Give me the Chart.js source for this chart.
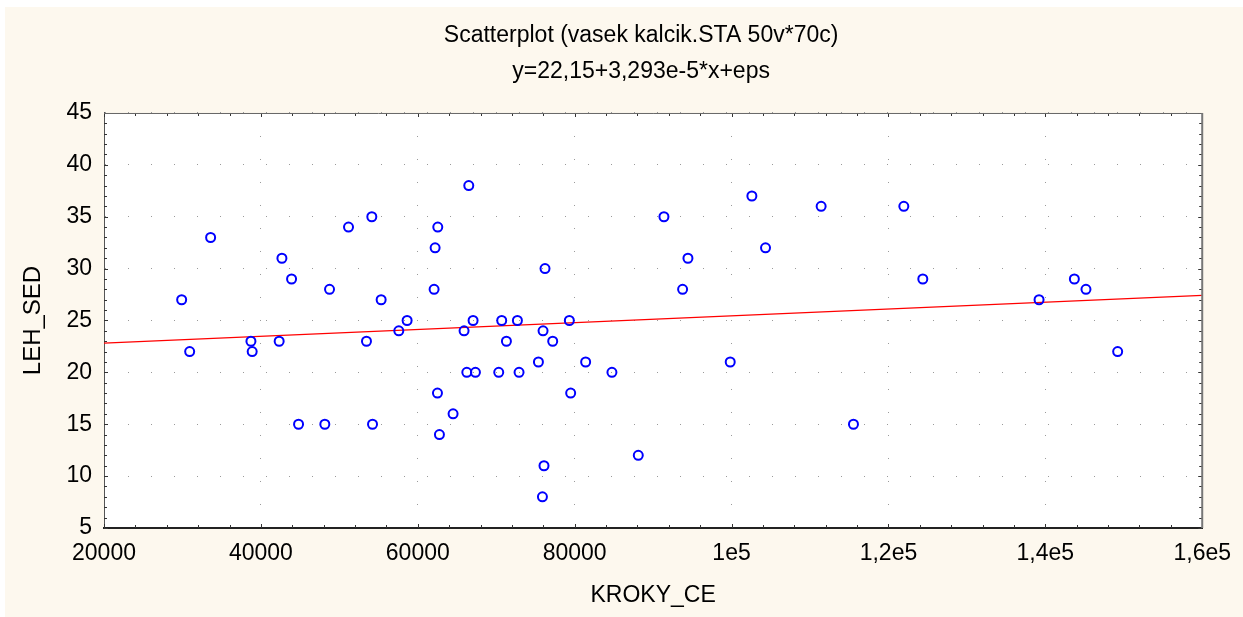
<!DOCTYPE html>
<html>
<head>
<meta charset="utf-8">
<script src="https://cdn.jsdelivr.net/npm/chart.js@4"></script>
<style>
html, body { margin: 0; padding: 0; background: #ffffff; }
</style>
</head>
<body>
<canvas id="grafo" width="1243" height="617"></canvas>
<script>
// KROKY_CE x LEH_SED
const krokyCe = [29900, 30920, 33590, 38730, 38890, 42330, 42680, 43910, 44800, 48150,
    48750, 51170, 53460, 54140, 54230, 55330, 57580, 58640, 62080, 62210,
    62510, 62550, 62760, 64500, 65900, 66250, 66500, 67050, 67350, 70320,
    70700, 71300, 72700, 72910, 75380, 75890, 75970, 76090, 76220, 77200,
    79320, 79490, 81400, 84750, 88110, 91380, 93760, 94440, 99830, 102590,
    104330, 111420, 115540, 121960, 124380, 139200, 143700, 145180, 149220];
const lehSed = [27, 22, 33, 23, 22, 23, 31, 29, 15, 15,
    28, 34, 23, 35, 15, 27, 24, 25, 28, 32,
    18, 34, 14, 16, 24, 20, 38, 25, 20, 20,
    25, 23, 25, 20, 21, 8, 24, 11, 30, 23,
    25, 18, 21, 20, 12, 35, 28, 31, 21, 37,
    32, 36, 15, 36, 29, 27, 29, 28, 22];

// reta ajustada
const fitX = [20000, 160000];
const fitY = [22.81, 27.42];

const xTickLabels = ['20000', '40000', '60000', '80000', '1e5', '1,2e5', '1,4e5', '1,6e5'];
const titulo = ['Scatterplot (vasek kalcik.STA 50v*70c)', 'y=22,15+3,293e-5*x+eps'];

Chart.defaults.font.family = "'Liberation Sans', Arial, sans-serif";
Chart.defaults.color = '#000000';

const fundo = {
    id: 'fundo',
    beforeDraw(chart) {
        const {ctx, chartArea: a} = chart;
        ctx.save();
        ctx.fillStyle = '#fdf8ee';
        ctx.fillRect(5, 7, chart.width - 5, chart.height - 7);
        ctx.fillStyle = '#ffffff';
        ctx.fillRect(a.left, a.top, a.right - a.left, a.bottom - a.top);
        ctx.restore();
    }
};

const posTitulo = {
    id: 'posTitulo',
    afterLayout(chart) {
        const t = chart.titleBlock;
        if (t) { t.left -= 12; t.right -= 12; }
    }
};

const marcas = {
    id: 'marcas',
    afterDraw(chart) {
        const {ctx, chartArea: a, scales: {x, y}} = chart;
        ctx.save();
        ctx.strokeStyle = '#333333';
        ctx.lineWidth = 1;
        ctx.beginPath();
        for (let v = x.min; v <= x.max; v += 4000) {
            const px = Math.round(x.getPixelForValue(v)) + 0.5;
            const len = (v - x.min) % 20000 === 0 ? 4 : 3;
            ctx.moveTo(px, a.top); ctx.lineTo(px, a.top + len);
            ctx.moveTo(px, a.bottom); ctx.lineTo(px, a.bottom - len);
        }
        for (let v = y.min; v <= y.max; v += 1) {
            const py = Math.round(y.getPixelForValue(v)) + 0.5;
            const len = (v - y.min) % 5 === 0 ? 4 : 3;
            ctx.moveTo(a.left, py); ctx.lineTo(a.left + len, py);
            ctx.moveTo(a.right, py); ctx.lineTo(a.right - len, py);
        }
        ctx.stroke();
        ctx.strokeStyle = '#666666';
        ctx.beginPath();
        ctx.moveTo(a.left, a.top + 0.5); ctx.lineTo(a.right, a.top + 0.5);
        ctx.stroke();
        ctx.lineWidth = 2;
        ctx.strokeStyle = '#777777';
        ctx.beginPath();
        ctx.moveTo(a.right, a.top); ctx.lineTo(a.right, a.bottom);
        ctx.stroke();
        ctx.restore();
    }
};

const ctx = document.getElementById('grafo').getContext('2d');
const grafico = new Chart(ctx, {
    type: 'scatter',
    data: {
        datasets: [{
            label: 'LEH_SED',
            data: krokyCe.map((k, i) => ({x: k, y: lehSed[i]})),
            pointStyle: 'circle',
            pointRadius: 4.5,
            borderColor: '#0000ff',
            backgroundColor: 'rgba(0,0,0,0)',
            borderWidth: 2
        },
        {
            label: 'fit',
            data: fitX.map((k, i) => ({x: k, y: fitY[i]})),
            showLine: true,
            borderColor: '#ff0000',
            borderWidth: 1.3,
            pointRadius: 0
        }]
    },
    options: {
        responsive: false,
        animation: false,
        layout: { padding: { left: 8, right: 40, top: 0, bottom: 6 } },
        plugins: {
            legend: { display: false },
            tooltip: { enabled: false },
            title: {
                display: true,
                text: titulo,
                fullSize: false,
                color: '#000000',
                font: { size: 23, weight: 'normal', lineHeight: 1.565 },
                padding: { top: 18, bottom: 23 }
            }
        },
        scales: {
            x: {
                type: 'linear',
                min: 20000,
                max: 160000,
                ticks: {
                    stepSize: 20000,
                    autoSkip: false,
                    maxRotation: 0,
                    padding: 12,
                    font: { size: 23 },
                    callback: (v, i) => xTickLabels[i]
                },
                grid: { color: '#9a9a9a', drawTicks: false },
                border: { display: true, color: '#222222', width: 2, dash: [1, 22] },
                title: { display: true, text: 'KROKY_CE', font: { size: 23 }, padding: { top: 0, bottom: 2 } },
                afterFit(s) { s.height = 83; }
            },
            y: {
                min: 5,
                max: 45,
                ticks: { stepSize: 5, padding: 12, font: { size: 23 } },
                grid: { color: '#9a9a9a', drawTicks: false },
                border: { display: true, color: '#555555', width: 1, dash: [1, 22] },
                title: { display: true, text: 'LEH_SED', font: { size: 24 }, padding: { top: 11, bottom: 0 } },
                afterFit(s) { s.width = 96; }
            }
        }
    },
    plugins: [fundo, posTitulo, marcas]
});
</script>
</body>
</html>
